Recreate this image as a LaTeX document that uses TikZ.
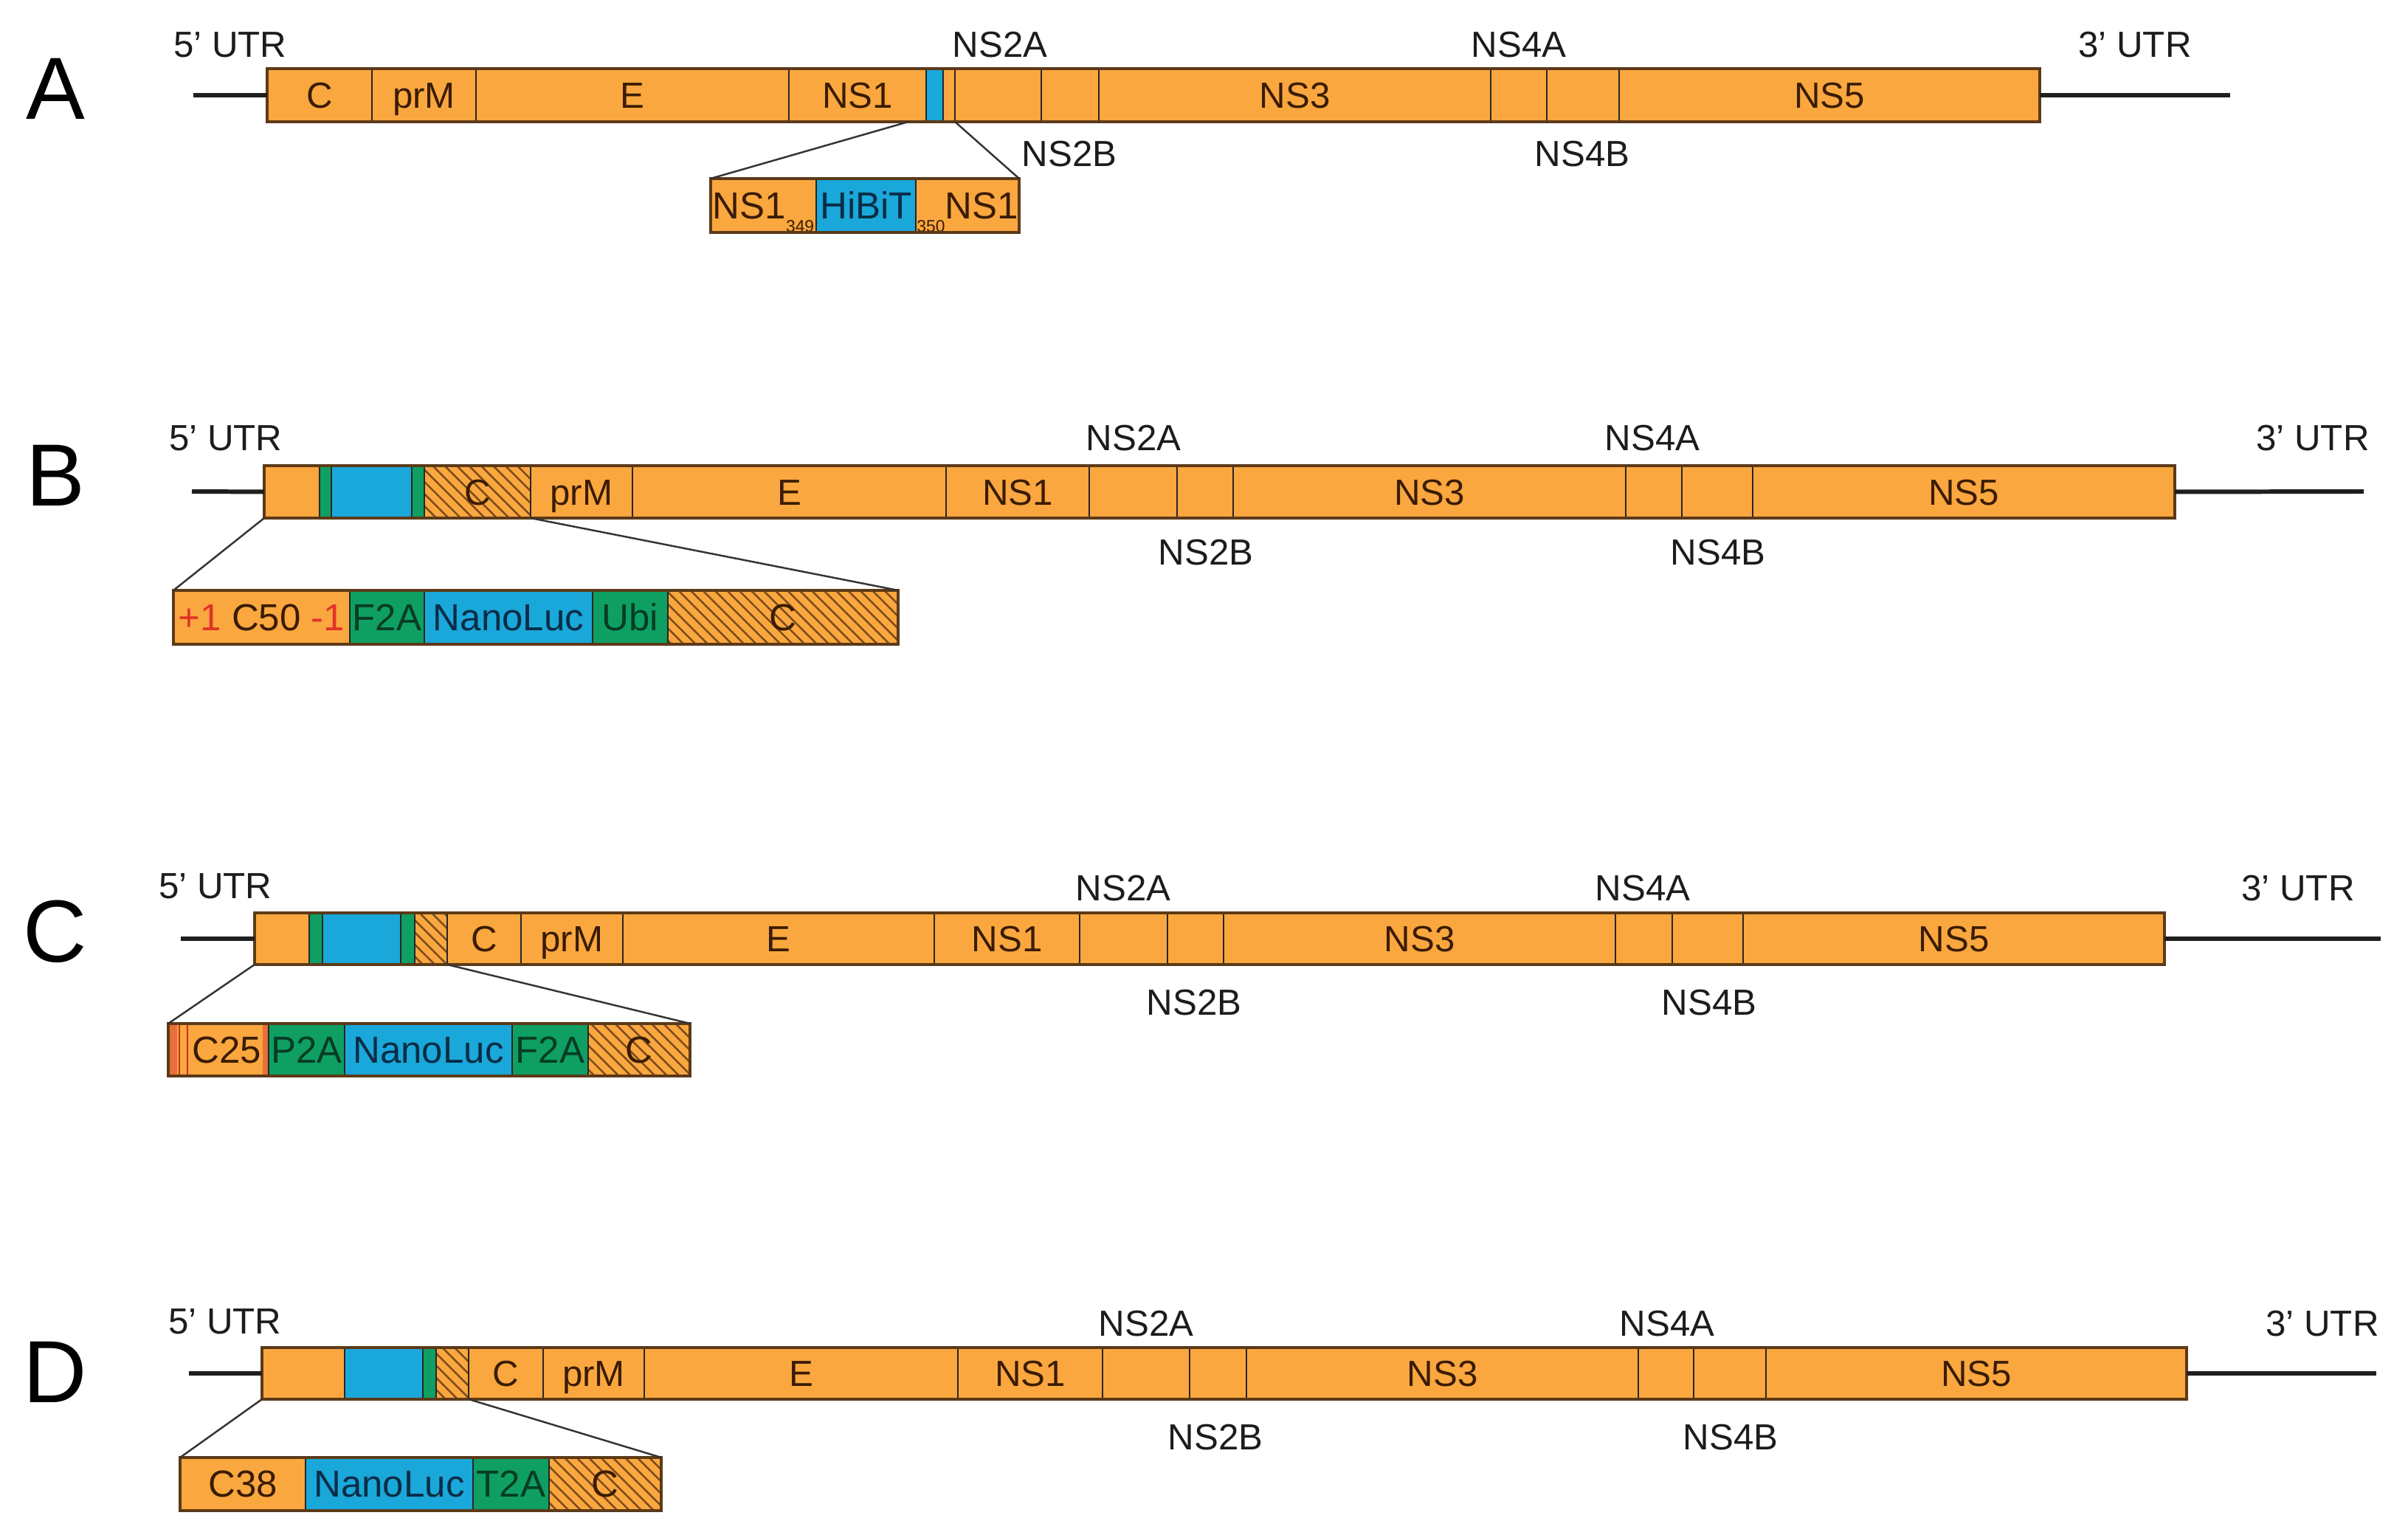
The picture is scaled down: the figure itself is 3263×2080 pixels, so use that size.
\documentclass[tikz,border=0pt]{standalone}
\usepackage{fontspec}
\setmainfont{Liberation Sans}
\usetikzlibrary{patterns.meta}
\definecolor{orng}{HTML}{FAA73F}
\definecolor{blu}{HTML}{1AA7D9}
\definecolor{grn}{HTML}{0F9F62}
\definecolor{edgec}{HTML}{5C3A18}
\definecolor{txtor}{HTML}{3A1C04}
\definecolor{txtbl}{HTML}{0A2C46}
\definecolor{txtgr}{HTML}{063C25}
\definecolor{hatchc}{HTML}{7A4A1C}
\definecolor{redt}{HTML}{E2322A}
\definecolor{redst}{HTML}{E8703A}
\definecolor{ink}{HTML}{1C1C1C}
\newcommand\insetfont{\fontsize{14.5}{16}\selectfont}
\newcommand\sub[1]{\raisebox{-0.7ex}{\fontsize{6.5}{7}\selectfont #1}}
\newcommand\seg[7]{\node[segbox,#6,minimum width={(#3-#2)*0.01cm},minimum height={(#5-#4)*0.01cm},anchor=north west] (#1) at (#2,#4) {#7};}
\begin{document}
\begin{tikzpicture}[x=0.01cm,y=-0.01cm,
  segbox/.style={draw=black!85,line width=0.6pt,inner sep=0pt,outer sep=0pt,text height=10pt,text depth=0pt,font=\fontsize{14}{16}\selectfont},
  orbox/.style={fill=orng,text=txtor},
  bluebox/.style={fill=blu,text=txtbl},
  grnbox/.style={fill=grn,text=txtgr},
  hatchbox/.style={text=txtor,preaction={fill=orng},pattern={Lines[angle=-45,distance=3.3pt,line width=0.7pt]},pattern color=hatchc},
  frame/.style={draw=edgec,line width=1.2pt},
  utr/.style={draw=black!88,line width=1.7pt},
  conn/.style={draw=black!80,line width=0.7pt},
  lbl/.style={text=ink,inner sep=0pt,text height=10pt,text depth=0pt,font=\fontsize{14}{16}\selectfont},
  panel/.style={text=black,inner sep=0pt,text height=24pt,text depth=0pt,font=\fontsize{34}{38}\selectfont}]
\useasboundingbox (0,0) rectangle (3263,2080);

% ---------------- A ----------------
\node[panel] (pA) at (75,119) {A};
\coordinate (aL) at (262,129);
\coordinate (aR) at (3022,129);
\seg{aC}{362}{504}{93}{165}{orbox}{C}
\seg{aprM}{504}{645}{93}{165}{orbox}{prM}
\seg{aE}{645}{1069}{93}{165}{orbox}{E}
\seg{aNS1}{1069}{1255}{93}{165}{orbox}{NS1}
\seg{aHi}{1255}{1278}{93}{165}{bluebox}{}
\seg{aNS1b}{1278}{1294}{93}{165}{orbox}{}
\seg{aNS2A}{1294}{1411}{93}{165}{orbox}{}
\seg{aNS2B}{1411}{1489}{93}{165}{orbox}{}
\seg{aNS3}{1489}{2020}{93}{165}{orbox}{NS3}
\seg{aNS4A}{2020}{2096}{93}{165}{orbox}{}
\seg{aNS4B}{2096}{2194}{93}{165}{orbox}{}
\seg{aNS5}{2194}{2764}{93}{165}{orbox}{NS5}
\draw[frame] (aC.north west) rectangle (aNS5.south east);
\draw[utr] (aL) -- (aC.west);
\draw[utr] (aNS5.east) -- (aR);
\node[lbl] (a5) at (312,60) {5' UTR};
\node[lbl] (a2A) at (1355,60) {NS2A};
\node[lbl] (a4A) at (2058,60) {NS4A};
\node[lbl] (a3) at (2893,60) {3' UTR};
\node[lbl] (a2B) at (1449,208) {NS2B};
\node[lbl] (a4B) at (2144,208) {NS4B};
\seg{iA1}{963}{1106}{242}{315}{orbox,font=\insetfont}{NS1\sub{349}}
\seg{iA2}{1106}{1241}{242}{315}{bluebox,font=\insetfont}{HiBiT}
\seg{iA3}{1241}{1381}{242}{315}{orbox,font=\insetfont}{\sub{350}NS1}
\draw[frame] (iA1.north west) rectangle (iA3.south east);
\coordinate (aZ) at (1231,165);
\draw[conn] (aZ) -- (iA1.north west);
\draw[conn] (aNS2A.south west) -- (iA3.north east);

% ---------------- B ----------------
\node[panel] (pB) at (75,643) {B};
\coordinate (bL) at (260,666);
\coordinate (bR) at (3203,666);
\seg{bO}{358}{433}{631}{702}{orbox}{}
\seg{bG1}{433}{449}{631}{702}{grnbox}{}
\seg{bBl}{449}{558}{631}{702}{bluebox}{}
\seg{bG2}{558}{575}{631}{702}{grnbox}{}
\seg{bCh}{575}{719}{631}{702}{hatchbox}{C}
\seg{bprM}{719}{857}{631}{702}{orbox}{prM}
\seg{bE}{857}{1282}{631}{702}{orbox}{E}
\seg{bNS1}{1282}{1476}{631}{702}{orbox}{NS1}
\seg{bNS2A}{1476}{1595}{631}{702}{orbox}{}
\seg{bNS2B}{1595}{1671}{631}{702}{orbox}{}
\seg{bNS3}{1671}{2203}{631}{702}{orbox}{NS3}
\seg{bNS4A}{2203}{2279}{631}{702}{orbox}{}
\seg{bNS4B}{2279}{2375}{631}{702}{orbox}{}
\seg{bNS5}{2375}{2947}{631}{702}{orbox}{NS5}
\draw[frame] (bO.north west) rectangle (bNS5.south east);
\draw[utr] (bL) -- (bO.west);
\draw[utr] (bNS5.east) -- (bR);
\node[lbl] (b5) at (306,593) {5' UTR};
\node[lbl] (b2A) at (1536,593) {NS2A};
\node[lbl] (b4A) at (2239,593) {NS4A};
\node[lbl] (b3) at (3134,593) {3' UTR};
\node[lbl] (b2B) at (1634,748) {NS2B};
\node[lbl] (b4B) at (2328,748) {NS4B};
\seg{iB1}{235}{474}{800}{873}{orbox,font=\insetfont}{{\color{redt}+1} C50 {\color{redt}-1}}
\seg{iB2}{474}{575}{800}{873}{grnbox,font=\insetfont}{F2A}
\seg{iB3}{575}{803}{800}{873}{bluebox,font=\insetfont}{NanoLuc}
\seg{iB4}{803}{905}{800}{873}{grnbox,font=\insetfont}{Ubi}
\seg{iB5}{905}{1217}{800}{873}{hatchbox,font=\insetfont}{C}
\draw[frame] (iB1.north west) rectangle (iB5.south east);
\draw[conn] (bO.south west) -- (iB1.north west);
\draw[conn] (bCh.south east) -- (iB5.north east);

% ---------------- C ----------------
\node[panel] (pC) at (75,1261) {C};
\coordinate (cL) at (245,1272);
\coordinate (cR) at (3226,1272);
\seg{cO}{345}{419}{1237}{1307}{orbox}{}
\seg{cG1}{419}{437}{1237}{1307}{grnbox}{}
\seg{cBl}{437}{543}{1237}{1307}{bluebox}{}
\seg{cG2}{543}{562}{1237}{1307}{grnbox}{}
\seg{cCh}{562}{606}{1237}{1307}{hatchbox}{}
\seg{cC}{606}{706}{1237}{1307}{orbox}{C}
\seg{cprM}{706}{844}{1237}{1307}{orbox}{prM}
\seg{cE}{844}{1266}{1237}{1307}{orbox}{E}
\seg{cNS1}{1266}{1463}{1237}{1307}{orbox}{NS1}
\seg{cNS2A}{1463}{1582}{1237}{1307}{orbox}{}
\seg{cNS2B}{1582}{1658}{1237}{1307}{orbox}{}
\seg{cNS3}{1658}{2189}{1237}{1307}{orbox}{NS3}
\seg{cNS4A}{2189}{2266}{1237}{1307}{orbox}{}
\seg{cNS4B}{2266}{2362}{1237}{1307}{orbox}{}
\seg{cNS5}{2362}{2933}{1237}{1307}{orbox}{NS5}
\draw[frame] (cO.north west) rectangle (cNS5.south east);
\draw[utr] (cL) -- (cO.west);
\draw[utr] (cNS5.east) -- (cR);
\node[lbl] (c5) at (292,1200) {5' UTR};
\node[lbl] (c2A) at (1522,1203) {NS2A};
\node[lbl] (c4A) at (2226,1203) {NS4A};
\node[lbl] (c3) at (3114,1203) {3' UTR};
\node[lbl] (c2B) at (1618,1358) {NS2B};
\node[lbl] (c4B) at (2316,1358) {NS4B};
\seg{iC1}{228}{364}{1387}{1458}{orbox,font=\insetfont}{\hspace*{0.22cm}C25}
\fill[redst] (228,1387) rectangle (240,1458);
\fill[redst] (356,1387) rectangle (363,1458);
\draw[draw=redt!90!black,line width=0.5pt] (243,1387) -- (243,1458);
\draw[draw=redt!90!black,line width=0.5pt] (254,1387) -- (254,1458);
\seg{iC2}{364}{467}{1387}{1458}{grnbox,font=\insetfont}{P2A}
\seg{iC3}{467}{694}{1387}{1458}{bluebox,font=\insetfont}{NanoLuc}
\seg{iC4}{694}{797}{1387}{1458}{grnbox,font=\insetfont}{F2A}
\seg{iC5}{797}{935}{1387}{1458}{hatchbox,font=\insetfont}{C}
\draw[frame] (iC1.north west) rectangle (iC5.south east);
\draw[conn] (cO.south west) -- (iC1.north west);
\draw[conn] (cCh.south east) -- (iC5.north east);

% ---------------- D ----------------
\node[panel] (pD) at (75,1858) {D};
\coordinate (dL) at (256,1861);
\coordinate (dR) at (3220,1861);
\seg{dO}{355}{467}{1826}{1896}{orbox}{}
\seg{dBl}{467}{573}{1826}{1896}{bluebox}{}
\seg{dG}{573}{591}{1826}{1896}{grnbox}{}
\seg{dCh}{591}{635}{1826}{1896}{hatchbox}{}
\seg{dC}{635}{736}{1826}{1896}{orbox}{C}
\seg{dprM}{736}{873}{1826}{1896}{orbox}{prM}
\seg{dE}{873}{1298}{1826}{1896}{orbox}{E}
\seg{dNS1}{1298}{1494}{1826}{1896}{orbox}{NS1}
\seg{dNS2A}{1494}{1612}{1826}{1896}{orbox}{}
\seg{dNS2B}{1612}{1689}{1826}{1896}{orbox}{}
\seg{dNS3}{1689}{2220}{1826}{1896}{orbox}{NS3}
\seg{dNS4A}{2220}{2295}{1826}{1896}{orbox}{}
\seg{dNS4B}{2295}{2393}{1826}{1896}{orbox}{}
\seg{dNS5}{2393}{2963}{1826}{1896}{orbox}{NS5}
\draw[frame] (dO.north west) rectangle (dNS5.south east);
\draw[utr] (dL) -- (dO.west);
\draw[utr] (dNS5.east) -- (dR);
\node[lbl] (d5) at (305,1790) {5' UTR};
\node[lbl] (d2A) at (1553,1793) {NS2A};
\node[lbl] (d4A) at (2259,1793) {NS4A};
\node[lbl] (d3) at (3147,1793) {3' UTR};
\node[lbl] (d2B) at (1647,1947) {NS2B};
\node[lbl] (d4B) at (2345,1947) {NS4B};
\seg{iD1}{244}{414}{1975}{2047}{orbox,font=\insetfont}{C38}
\seg{iD2}{414}{641}{1975}{2047}{bluebox,font=\insetfont}{NanoLuc}
\seg{iD3}{641}{744}{1975}{2047}{grnbox,font=\insetfont}{T2A}
\seg{iD4}{744}{896}{1975}{2047}{hatchbox,font=\insetfont}{C}
\draw[frame] (iD1.north west) rectangle (iD4.south east);
\draw[conn] (dO.south west) -- (iD1.north west);
\draw[conn] (dCh.south east) -- (iD4.north east);
\end{tikzpicture}
\end{document}
